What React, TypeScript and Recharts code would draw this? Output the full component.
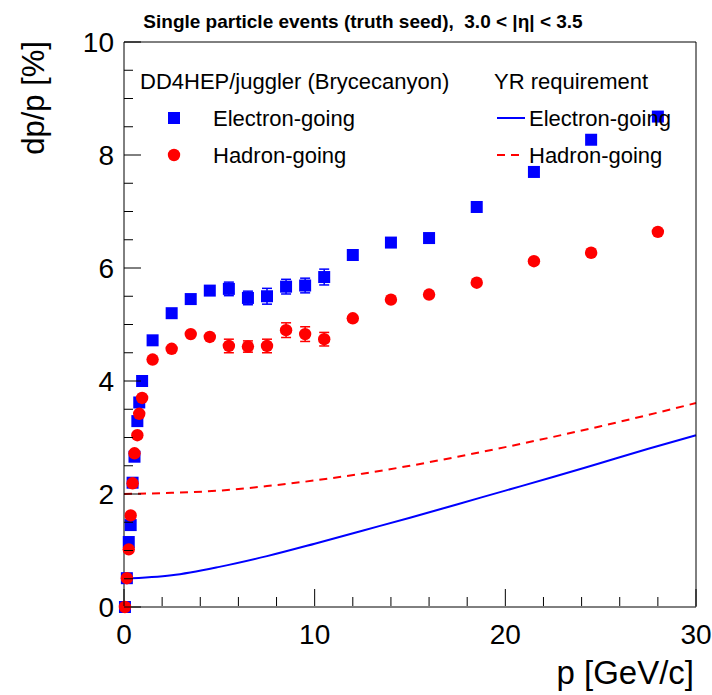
import { ComposedChart, XAxis, YAxis, Scatter, Line, ErrorBar } from "recharts";

// momentum bins (GeV/c) of the simulated single particle samples
const momentum = [0.05, 0.15, 0.25, 0.35, 0.45, 0.55, 0.7, 0.8, 0.95, 1.5, 2.5, 3.5, 4.5, 5.5, 6.5, 7.5, 8.5, 9.5, 10.5, 12, 14, 16, 18.5, 21.5, 24.5, 28];

// dp/p [%] electron-going
const electronRes = [0, 0.51, 1.15, 1.45, 2.2, 2.66, 3.29, 3.62, 4.0, 4.72, 5.2, 5.45, 5.6, 5.63, 5.47, 5.5, 5.67, 5.69, 5.84, 6.23, 6.45, 6.53, 7.08, 7.7, 8.27, 8.68];
const electronErr = [0, 0, 0, 0, 0, 0, 0, 0, 0, 0, 0, 0, 0, 0.12, 0.12, 0.14, 0.13, 0.13, 0.14, 0, 0, 0, 0, 0, 0, 0];

// dp/p [%] hadron-going
const hadronRes = [0, 0.51, 1.02, 1.62, 2.19, 2.72, 3.04, 3.42, 3.7, 4.38, 4.57, 4.83, 4.78, 4.62, 4.61, 4.62, 4.9, 4.83, 4.74, 5.11, 5.44, 5.53, 5.74, 6.12, 6.27, 6.64];
const hadronErr = [0, 0, 0, 0, 0, 0, 0, 0, 0, 0, 0, 0, 0, 0.12, 0.1, 0.12, 0.13, 0.13, 0.12, 0, 0, 0, 0, 0, 0, 0];

// YR requirement curves
const yrMomentum = [0, 2.5, 5, 7.5, 10, 12.5, 15, 17.5, 20, 22.5, 25, 27.5, 30];
const yrElectron = [0.5, 0.56, 0.71, 0.9, 1.12, 1.35, 1.58, 1.82, 2.06, 2.3, 2.55, 2.8, 3.04];
const yrHadron = [2.0, 2.02, 2.06, 2.14, 2.24, 2.36, 2.5, 2.66, 2.83, 3.01, 3.2, 3.4, 3.61];

const xTicks = [0, 2, 4, 6, 8, 10, 12, 14, 16, 18, 20, 22, 24, 26, 28, 30];
const xLabels = [0, 10, 20, 30];
const yTicks = [0, 0.5, 1, 1.5, 2, 2.5, 3, 3.5, 4, 4.5, 5, 5.5, 6, 6.5, 7, 7.5, 8, 8.5, 9, 9.5, 10];
const yLabels = [0, 2, 4, 6, 8, 10];

const electronPts = momentum.map((p, i) => ({ p, v: electronRes[i], err: electronErr[i] }));
const hadronPts = momentum.map((p, i) => ({ p, v: hadronRes[i], err: hadronErr[i] }));
const yrElectronPts = yrMomentum.map((p, i) => ({ p, v: yrElectron[i] }));
const yrHadronPts = yrMomentum.map((p, i) => ({ p, v: yrHadron[i] }));

const FONT = "'Liberation Sans', Arial, Helvetica, sans-serif";
const BLUE = "#0000ff";
const RED = "#ff0000";
const MAJOR = 17;
const MINOR = 9;

// bottom axis: label anchor sits 1px (the axis height) below the frame
const bottomTick = (props: any) => {
  const { x, y, payload } = props;
  const y0 = y - 1;
  const major = xLabels.includes(payload.value);
  return (
    <g>
      <line x1={x} y1={y0} x2={x} y2={y0 - (major ? MAJOR : MINOR)} stroke="#000" />
      {major && (
        <text x={x} y={y0 + 38} textAnchor="middle" fontSize={28} fontFamily={FONT} fill="#000">
          {payload.value}
        </text>
      )}
    </g>
  );
};

const topTick = (props: any) => {
  const { x, y, payload } = props;
  const major = xLabels.includes(payload.value);
  return <line x1={x} y1={y} x2={x} y2={y + (major ? MAJOR : MINOR)} stroke="#000" />;
};

const leftTick = (props: any) => {
  const { x, y, payload } = props;
  const major = yLabels.includes(payload.value);
  return (
    <g>
      <line x1={x} y1={y} x2={x + (major ? MAJOR : MINOR)} y2={y} stroke="#000" />
      {major && (
        <text x={x - 10} y={y} dy="0.36em" textAnchor="end" fontSize={28} fontFamily={FONT} fill="#000">
          {payload.value}
        </text>
      )}
    </g>
  );
};

const rightTick = (props: any) => {
  const { x, y, payload } = props;
  const major = yLabels.includes(payload.value);
  return <line x1={x} y1={y} x2={x - (major ? MAJOR : MINOR)} y2={y} stroke="#000" />;
};

const square = (props: any) => (
  <rect x={props.cx - 6} y={props.cy - 6} width={12} height={12} fill={BLUE} />
);
const dot = (props: any) => <circle cx={props.cx} cy={props.cy} r={6.2} fill={RED} />;

const App = () => (
  <div style={{ position: "absolute", left: 0, top: 0, width: 712, height: 695, background: "#fff" }}>
    <ComposedChart width={712} height={695} margin={{ top: 41, right: 15, bottom: 87, left: 123 }}>
      <XAxis
        dataKey="p"
        type="number"
        domain={[0, 30]}
        ticks={xTicks}
        interval={0}
        height={1}
        tickSize={0}
        tickMargin={0}
        tickLine={false}
        axisLine={{ stroke: "#000" }}
        tick={bottomTick}
      />
      <XAxis
        xAxisId="top"
        orientation="top"
        dataKey="p"
        type="number"
        domain={[0, 30]}
        ticks={xTicks}
        interval={0}
        height={1}
        tickSize={0}
        tickMargin={0}
        tickLine={false}
        axisLine={{ stroke: "#000" }}
        tick={topTick}
      />
      <YAxis
        dataKey="v"
        type="number"
        domain={[0, 10]}
        ticks={yTicks}
        interval={0}
        width={1}
        tickSize={0}
        tickMargin={0}
        tickLine={false}
        axisLine={{ stroke: "#000" }}
        tick={leftTick}
      />
      <YAxis
        yAxisId="right"
        orientation="right"
        dataKey="v"
        type="number"
        domain={[0, 10]}
        ticks={yTicks}
        interval={0}
        width={1}
        tickSize={0}
        tickMargin={0}
        tickLine={false}
        axisLine={{ stroke: "#000" }}
        tick={rightTick}
      />
      <Line data={yrHadronPts} dataKey="v" type="monotone" stroke={RED} strokeWidth={2} strokeDasharray="8 6" dot={false} isAnimationActive={false} />
      <Line data={yrElectronPts} dataKey="v" type="monotone" stroke={BLUE} strokeWidth={2} dot={false} isAnimationActive={false} />
      <Scatter data={electronPts} dataKey="v" shape={square} isAnimationActive={false}>
        <ErrorBar dataKey="err" direction="y" width={5} stroke={BLUE} strokeWidth={1.5} />
      </Scatter>
      <Scatter data={hadronPts} dataKey="v" shape={dot} isAnimationActive={false}>
        <ErrorBar dataKey="err" direction="y" width={5} stroke={RED} strokeWidth={1.5} />
      </Scatter>
    </ComposedChart>

    <svg width={712} height={695} style={{ position: "absolute", left: 0, top: 0, pointerEvents: "none" }} fontFamily={FONT}>
      <text x={363} y={28} textAnchor="middle" fontSize={19} fontWeight="bold" fill="#000">
        {"Single particle events (truth seed),\u00a0 3.0 < |η| < 3.5"}
      </text>
      <text transform="translate(44,41) rotate(-90)" textAnchor="end" fontSize={31} fill="#000">
        dp/p [%]
      </text>
      <text x={694} y={684} textAnchor="end" fontSize={33} fill="#000">
        p [GeV/c]
      </text>

      <text x={140} y={89} fontSize={22} fill="#000">DD4HEP/juggler (Brycecanyon)</text>
      <rect x={168} y={112} width={12} height={12} fill={BLUE} />
      <text x={213} y={126} fontSize={22} fill="#000">Electron-going</text>
      <circle cx={174} cy={155} r={6.2} fill={RED} />
      <text x={213} y={163} fontSize={22} fill="#000">Hadron-going</text>

      <text x={494} y={89} fontSize={22} fill="#000">YR requirement</text>
      <line x1={497} y1={118} x2={525} y2={118} stroke={BLUE} strokeWidth={2} />
      <text x={529} y={126} fontSize={22} fill="#000">Electron-going</text>
      <line x1={497} y1={155} x2={525} y2={155} stroke={RED} strokeWidth={2} strokeDasharray="8 6" />
      <text x={529} y={163} fontSize={22} fill="#000">Hadron-going</text>
    </svg>
  </div>
);

export default App;
